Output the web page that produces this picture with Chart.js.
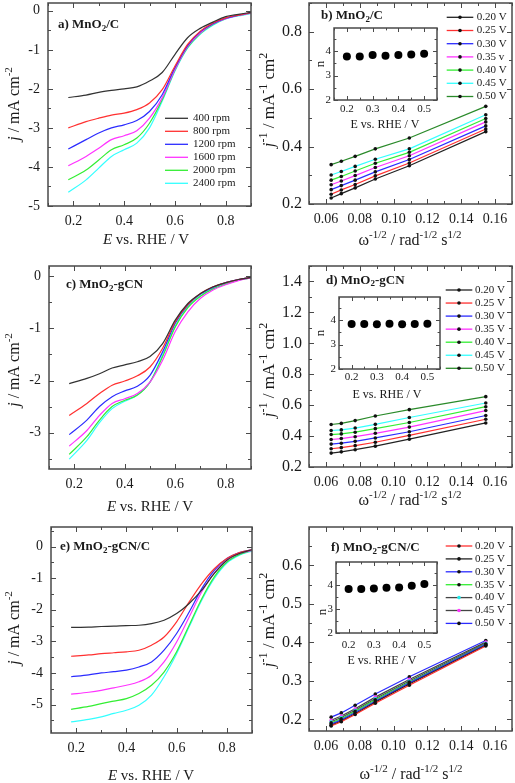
<!DOCTYPE html>
<html>
<head>
<meta charset="utf-8">
<script src="https://cdn.jsdelivr.net/npm/chart.js@4/dist/chart.umd.min.js"></script>
<style>
  body { margin: 0; background: #fff; }
  #fig { position: relative; width: 515px; height: 783px; }
  #fig canvas { position: absolute; left: 0; top: 0; }
</style>
</head>
<body>
<div id="fig">
  <canvas id="pa" width="515" height="783"></canvas>
  <canvas id="pb" width="515" height="783"></canvas>
  <canvas id="pbi" width="515" height="783"></canvas>
  <canvas id="pc" width="515" height="783"></canvas>
  <canvas id="pd" width="515" height="783"></canvas>
  <canvas id="pdi" width="515" height="783"></canvas>
  <canvas id="pe" width="515" height="783"></canvas>
  <canvas id="pf" width="515" height="783"></canvas>
  <canvas id="pfi" width="515" height="783"></canvas>
</div>
<script>
// ---- data ----
const E_SCAN = [0.18, 0.25, 0.3, 0.35, 0.4, 0.45, 0.5, 0.55, 0.6, 0.65, 0.7, 0.75, 0.8, 0.85, 0.9];
const rpmLabels = ['400 rpm', '800 rpm', '1200 rpm', '1600 rpm', '2000 rpm', '2400 rpm'];

// j (mA cm-2) for each rotation rate, MnO2/C
const lsvA = [
  [-2.22, -2.16, -2.09, -2.04, -2.0, -1.95, -1.8, -1.58, -1.12, -0.69, -0.45, -0.29, -0.15, -0.09, -0.04],
  [-3.0, -2.84, -2.75, -2.67, -2.62, -2.53, -2.36, -2.02, -1.42, -0.86, -0.52, -0.31, -0.18, -0.11, -0.05],
  [-3.54, -3.3, -3.13, -3.0, -2.92, -2.81, -2.58, -2.15, -1.46, -0.89, -0.54, -0.33, -0.19, -0.11, -0.05],
  [-3.97, -3.73, -3.52, -3.3, -3.2, -3.07, -2.75, -2.23, -1.51, -0.92, -0.57, -0.34, -0.2, -0.12, -0.06],
  [-4.33, -4.08, -3.82, -3.56, -3.43, -3.26, -2.88, -2.28, -1.52, -0.94, -0.58, -0.35, -0.2, -0.12, -0.06],
  [-4.65, -4.33, -4.03, -3.73, -3.56, -3.39, -3.0, -2.32, -1.55, -0.96, -0.6, -0.37, -0.21, -0.13, -0.07]
];
// MnO2-gCN
const lsvC = [
  [-2.06, -1.96, -1.87, -1.76, -1.7, -1.64, -1.54, -1.29, -0.84, -0.52, -0.33, -0.2, -0.12, -0.06, -0.02],
  [-2.67, -2.44, -2.25, -2.09, -2.01, -1.91, -1.74, -1.38, -0.87, -0.54, -0.33, -0.2, -0.12, -0.06, -0.02],
  [-3.04, -2.76, -2.5, -2.31, -2.2, -2.11, -1.9, -1.45, -0.9, -0.55, -0.34, -0.21, -0.12, -0.06, -0.02],
  [-3.26, -2.96, -2.67, -2.44, -2.35, -2.25, -2.03, -1.61, -1.06, -0.68, -0.42, -0.26, -0.16, -0.08, -0.03],
  [-3.42, -3.08, -2.76, -2.5, -2.38, -2.28, -2.03, -1.54, -0.97, -0.6, -0.38, -0.24, -0.15, -0.07, -0.03],
  [-3.51, -3.15, -2.81, -2.54, -2.4, -2.28, -2.03, -1.51, -0.96, -0.58, -0.37, -0.23, -0.14, -0.07, -0.03]
];
// MnO2-gCN/C
const lsvE = [
  [-2.56, -2.55, -2.53, -2.52, -2.5, -2.49, -2.44, -2.33, -2.12, -1.8, -1.38, -0.85, -0.43, -0.22, -0.1],
  [-3.47, -3.43, -3.39, -3.36, -3.33, -3.28, -3.12, -2.86, -2.38, -1.75, -1.17, -0.7, -0.38, -0.19, -0.1],
  [-4.12, -4.06, -4.0, -3.96, -3.91, -3.81, -3.65, -3.28, -2.75, -2.07, -1.33, -0.75, -0.38, -0.19, -0.1],
  [-4.67, -4.61, -4.55, -4.47, -4.39, -4.28, -4.07, -3.65, -3.02, -2.23, -1.43, -0.83, -0.43, -0.22, -0.12],
  [-5.15, -5.06, -4.97, -4.89, -4.81, -4.65, -4.39, -3.97, -3.33, -2.49, -1.65, -0.96, -0.49, -0.25, -0.12],
  [-5.55, -5.47, -5.39, -5.28, -5.18, -5.02, -4.7, -4.12, -3.39, -2.54, -1.7, -1.01, -0.52, -0.27, -0.14]
];

// Koutecky-Levich: omega^-1/2 for 2400 ... 400 rpm
const omegaInv = [0.0631, 0.0691, 0.0773, 0.0892, 0.1093, 0.1545];
const potLabelsB = ['0.20 V', '0.25 V', '0.30 V', '0.35 v', '0.40 V', '0.45 V', '0.50 V'];
const potLabels = ['0.20 V', '0.25 V', '0.30 V', '0.35 V', '0.40 V', '0.45 V', '0.50 V'];
const klB = [
  [0.221, 0.236, 0.256, 0.287, 0.333, 0.452],
  [0.234, 0.249, 0.268, 0.298, 0.343, 0.461],
  [0.250, 0.264, 0.283, 0.312, 0.355, 0.472],
  [0.267, 0.280, 0.299, 0.327, 0.368, 0.486],
  [0.283, 0.296, 0.315, 0.342, 0.380, 0.498],
  [0.301, 0.313, 0.331, 0.356, 0.392, 0.511],
  [0.337, 0.349, 0.366, 0.392, 0.430, 0.540]
];
const klD = [
  [0.290, 0.298, 0.312, 0.335, 0.380, 0.485],
  [0.318, 0.325, 0.338, 0.360, 0.404, 0.509],
  [0.348, 0.354, 0.366, 0.388, 0.428, 0.533],
  [0.378, 0.384, 0.396, 0.418, 0.458, 0.565],
  [0.410, 0.414, 0.425, 0.448, 0.488, 0.590],
  [0.436, 0.440, 0.452, 0.476, 0.520, 0.614],
  [0.475, 0.482, 0.500, 0.530, 0.571, 0.655]
];
const klF = [
  [0.183, 0.194, 0.213, 0.242, 0.289, 0.391],
  [0.185, 0.196, 0.215, 0.245, 0.292, 0.393],
  [0.188, 0.199, 0.218, 0.248, 0.295, 0.395],
  [0.191, 0.202, 0.221, 0.251, 0.297, 0.396],
  [0.194, 0.205, 0.224, 0.254, 0.300, 0.398],
  [0.198, 0.209, 0.228, 0.258, 0.304, 0.401],
  [0.206, 0.217, 0.237, 0.266, 0.311, 0.405]
];

// electron transfer number n vs potential
const nPot = [0.2, 0.25, 0.3, 0.35, 0.4, 0.45, 0.5];
const nB = [3.78, 3.78, 3.84, 3.81, 3.84, 3.86, 3.89];
const nD = [3.84, 3.84, 3.83, 3.85, 3.83, 3.84, 3.85];
const nF = [3.83, 3.83, 3.85, 3.88, 3.89, 3.96, 4.04];

// ---- styling ----
const SERIF = '"Liberation Serif", "DejaVu Serif", serif';
const TXT = '#1a1a1a';
const FRAME = '#4a4a4a';
const lsvColors = ['#333333', '#ff3030', '#2b2bff', '#ff33ff', '#33ee33', '#33ffff'];
const klColors = ['#222222', '#ff3030', '#2b2bff', '#ff33ff', '#33ee33', '#33ffff', '#2a8a2a'];
const klColorsF = ['#ff3030', '#222222', '#2b2bff', '#33ee33', '#444444', '#444444', '#2b2bff'];
const klMarkF = ['#111111', '#111111', '#111111', '#111111', '#22e8e8', '#ff33ff', '#111111'];

Chart.defaults.font.family = SERIF;
Chart.defaults.color = TXT;

function isMajor(v, step) {
  const r = v / step;
  return Math.abs(r - Math.round(r)) < 1e-6;
}

// text with italic / superscript / subscript pieces
function rich(ctx, segs, x, y, size, o) {
  o = o || {};
  const items = segs.map(s => {
    const st = s[1] || '';
    const small = st === 'sup' || st === 'sub';
    const sz = small ? Math.round(size * 0.68) : size;
    const font = (st === 'it' ? 'italic ' : '') + (o.bold ? 'bold ' : '') + sz + 'px ' + SERIF;
    ctx.font = font;
    return { t: s[0], font, w: ctx.measureText(s[0]).width,
             dy: st === 'sup' ? -size * 0.36 : (st === 'sub' ? size * 0.26 : 0) };
  });
  const total = items.reduce((a, b) => a + b.w, 0);
  ctx.save();
  ctx.translate(x, y);
  if (o.rot) ctx.rotate(o.rot);
  let cx = o.align === 'left' ? 0 : -total / 2;
  ctx.textBaseline = 'middle';
  ctx.textAlign = 'left';
  ctx.fillStyle = TXT;
  items.forEach(it => { ctx.font = it.font; ctx.fillText(it.t, cx, it.dy); cx += it.w; });
  ctx.restore();
}

function deco(cfg) {
  return {
    id: 'deco',
    beforeDatasetsDraw(chart) {
      if (!cfg.inset) return;
      const a = chart.chartArea, ctx = chart.ctx;
      ctx.save();
      ctx.fillStyle = '#fff';
      ctx.fillRect(a.left, a.top, a.right - a.left, a.bottom - a.top);
      ctx.restore();
    },
    afterDraw(chart) {
      const ctx = chart.ctx, a = chart.chartArea;
      const xs = chart.scales.x, ys = chart.scales.y;
      const tl = cfg.inset ? 4 : 5;
      ctx.save();
      ctx.strokeStyle = FRAME;
      ctx.lineWidth = 1;
      ctx.beginPath();
      xs.ticks.forEach(t => {
        const p = Math.round(xs.getPixelForValue(t.value)) + 0.5;
        const L = isMajor(t.value, cfg.x.major) ? tl : tl * 0.6;
        ctx.moveTo(p, a.bottom); ctx.lineTo(p, a.bottom - L);
        ctx.moveTo(p, a.top); ctx.lineTo(p, a.top + L);
      });
      ys.ticks.forEach(t => {
        const p = Math.round(ys.getPixelForValue(t.value)) + 0.5;
        const L = isMajor(t.value, cfg.y.major) ? tl : tl * 0.6;
        ctx.moveTo(a.left, p); ctx.lineTo(a.left + L, p);
        ctx.moveTo(a.right, p); ctx.lineTo(a.right - L, p);
      });
      ctx.stroke();
      ctx.lineWidth = 1.5;
      ctx.strokeRect(a.left, a.top, a.right - a.left, a.bottom - a.top);
      ctx.restore();

      if (cfg.title) rich(ctx, cfg.title.segs, cfg.title.x, cfg.title.y, 13, { bold: true, align: 'left' });
      rich(ctx, cfg.xt.segs, cfg.xt.x, cfg.xt.y, cfg.xt.size);
      rich(ctx, cfg.yt.segs, cfg.yt.x, cfg.yt.y, cfg.yt.size, { rot: -Math.PI / 2 });

      const lg = cfg.legend;
      if (lg) {
        chart.data.datasets.forEach((ds, i) => {
          const y = lg.y0 + i * lg.dy;
          ctx.save();
          ctx.strokeStyle = ds.borderColor;
          ctx.lineWidth = 1.3;
          ctx.beginPath(); ctx.moveTo(lg.x0, y); ctx.lineTo(lg.x1, y); ctx.stroke();
          if (lg.marker) {
            ctx.fillStyle = ds.pointBackgroundColor;
            ctx.beginPath(); ctx.arc((lg.x0 + lg.x1) / 2, y, 1.8, 0, Math.PI * 2); ctx.fill();
          }
          ctx.fillStyle = TXT;
          ctx.font = '11px ' + SERIF;
          ctx.textBaseline = 'middle';
          ctx.textAlign = 'left';
          ctx.fillText(ds.label, lg.tx, y);
          ctx.restore();
        });
      }
    }
  };
}

function axis(ax, pos, size, pad, fixW) {
  return {
    type: 'linear', position: pos, min: ax.min, max: ax.max,
    grid: { display: false, drawTicks: false },
    border: { display: false },
    ticks: {
      stepSize: ax.minor, includeBounds: false, autoSkip: false, maxRotation: 0,
      padding: pad, color: TXT, font: { family: SERIF, size: size },
      callback: v => isMajor(v, ax.major) ? v.toFixed(ax.dec) : ''
    },
    afterFit: s => {
      if (pos === 'left') s.width = fixW; else s.height = fixW;
      s.paddingLeft = 0; s.paddingRight = 0; s.paddingTop = 0; s.paddingBottom = 0;
    }
  };
}

function build(id, cfg) {
  const b = cfg.box;
  const yW = cfg.inset ? 14 : 40;
  const xH = cfg.inset ? 16 : 26;
  return new Chart(document.getElementById(id), {
    type: 'line',
    data: { datasets: cfg.datasets },
    options: {
      responsive: false, animation: false, devicePixelRatio: 1, events: [],
      layout: { autoPadding: false, padding: { left: b.l - yW, top: b.t, right: 515 - b.r, bottom: 783 - b.b - xH } },
      plugins: { legend: { display: false }, tooltip: { enabled: false } },
      scales: {
        x: axis(cfg.x, 'bottom', cfg.x.size, cfg.x.pad, xH),
        y: axis(cfg.y, 'left', cfg.y.size, cfg.y.pad, yW)
      }
    },
    plugins: [deco(cfg)]
  });
}

function lsvSets(rows) {
  return rows.map((r, i) => ({
    label: rpmLabels[i],
    data: E_SCAN.map((e, k) => ({ x: e, y: r[k] })),
    borderColor: lsvColors[i], borderWidth: 1.2, pointRadius: 0,
    cubicInterpolationMode: 'monotone', fill: false
  }));
}
function klSets(rows, labels, colors, marks) {
  return rows.map((r, i) => ({
    label: labels[i],
    data: omegaInv.map((w, k) => ({ x: w, y: r[k] })),
    borderColor: colors[i], borderWidth: 1.2, tension: 0,
    pointRadius: 1.8, pointBorderWidth: 0,
    pointBackgroundColor: marks ? marks[i] : '#111111', fill: false
  }));
}
function nSet(vals) {
  return [{
    label: 'n', data: nPot.map((p, k) => ({ x: p, y: vals[k] })),
    showLine: false, pointRadius: 4, pointBorderWidth: 0,
    pointBackgroundColor: '#000', borderColor: '#000'
  }];
}

const xLsv = { min: 0.1, max: 0.9, minor: 0.1, major: 0.2, dec: 1, size: 14, pad: 7 };
const xKl = { min: 0.05, max: 0.17, minor: 0.01, major: 0.02, dec: 2, size: 14, pad: 7 };
const xIn = (pad) => ({ min: 0.15, max: 0.55, minor: 0.05, major: 0.1, dec: 1, size: 11, pad: pad });
const yIn = { min: 2, max: 4.95, minor: 0.5, major: 1, dec: 0, size: 11, pad: 3 };
const tE = [['E', 'it'], [' vs. RHE / V']];
const tJ = [['j', 'it'], [' / mA cm'], ['-2', 'sup']];
const tW = [['\u03c9'], ['-1/2', 'sup'], [' / rad'], ['-1/2', 'sup'], [' s'], ['1/2', 'sup']];
const tJi = [['j', 'it'], ['-1', 'sup'], [' / mA'], ['-1', 'sup'], [' cm'], ['2', 'sup']];

build('pa', {
  box: { l: 48, t: 3, r: 251, b: 206 }, x: xLsv,
  y: { min: -5, max: 0.2, minor: 0.5, major: 1, dec: 0, size: 14, pad: 8 },
  datasets: lsvSets(lsvA),
  title: { segs: [['a) MnO'], ['2', 'sub'], ['/C']], x: 58, y: 25 },
  xt: { segs: tE, x: 146, y: 240, size: 15 }, yt: { segs: tJ, x: 15, y: 104, size: 16 },
  legend: { x0: 165, x1: 188, tx: 193, y0: 118.3, dy: 13, marker: false }
});
build('pb', {
  box: { l: 309, t: 3, r: 512, b: 204 }, x: xKl,
  y: { min: 0.2, max: 0.9, minor: 0.1, major: 0.2, dec: 1, size: 16, pad: 7 },
  datasets: klSets(klB, potLabelsB, klColors),
  title: { segs: [['b) MnO'], ['2', 'sub'], ['/C']], x: 321, y: 16 },
  xt: { segs: tW, x: 410, y: 241, size: 16 }, yt: { segs: tJi, x: 270, y: 100, size: 17 },
  legend: { x0: 446.7, x1: 473.3, tx: 476.7, y0: 17.3, dy: 13.2, marker: true }
});
build('pbi', {
  inset: true, box: { l: 334, t: 28, r: 437, b: 100 }, x: xIn(3), y: yIn,
  datasets: nSet(nB),
  xt: { segs: [['E vs. RHE / V']], x: 385, y: 125, size: 12 }, yt: { segs: [['n']], x: 321, y: 64, size: 13 }
});
build('pc', {
  box: { l: 49, t: 266, r: 251, b: 469 }, x: xLsv,
  y: { min: -3.7, max: 0.2, minor: 0.5, major: 1, dec: 0, size: 14, pad: 8 },
  datasets: lsvSets(lsvC),
  title: { segs: [['c) MnO'], ['2', 'sub'], ['-gCN']], x: 66, y: 285 },
  xt: { segs: tE, x: 150, y: 507, size: 15 }, yt: { segs: tJ, x: 15, y: 370, size: 16 }
});
build('pd', {
  box: { l: 309, t: 266, r: 512, b: 467 }, x: xKl,
  y: { min: 0.2, max: 1.5, minor: 0.1, major: 0.2, dec: 1, size: 16, pad: 7 },
  datasets: klSets(klD, potLabels, klColors),
  title: { segs: [['d) MnO'], ['2', 'sub'], ['-gCN']], x: 326, y: 280.7 },
  xt: { segs: tW, x: 410, y: 501, size: 16 }, yt: { segs: tJi, x: 270, y: 370, size: 17 },
  legend: { x0: 445.7, x1: 472.3, tx: 475, y0: 290, dy: 13.05, marker: true }
});
build('pdi', {
  inset: true, box: { l: 339, t: 297, r: 440, b: 369 }, x: xIn(2), y: yIn,
  datasets: nSet(nD),
  xt: { segs: [['E vs. RHE / V']], x: 387, y: 395, size: 12 }, yt: { segs: [['n']], x: 321, y: 333, size: 13 }
});
build('pe', {
  box: { l: 51, t: 527, r: 252, b: 733 }, x: xLsv,
  y: { min: -5.9, max: 0.62, minor: 0.5, major: 1, dec: 0, size: 14, pad: 8 },
  datasets: lsvSets(lsvE),
  title: { segs: [['e) MnO'], ['2', 'sub'], ['-gCN/C']], x: 60, y: 547 },
  xt: { segs: tE, x: 151, y: 776, size: 15 }, yt: { segs: tJ, x: 15, y: 628, size: 16 }
});
build('pf', {
  box: { l: 309, t: 527, r: 512, b: 731 }, x: xKl,
  y: { min: 0.17, max: 0.7, minor: 0.05, major: 0.1, dec: 1, size: 16, pad: 7 },
  datasets: klSets(klF, potLabels, klColorsF, klMarkF),
  title: { segs: [['f) MnO'], ['2', 'sub'], ['-gCN/C']], x: 331, y: 548 },
  xt: { segs: tW, x: 411, y: 775, size: 16 }, yt: { segs: tJi, x: 270, y: 620, size: 17 },
  legend: { x0: 445.7, x1: 472.3, tx: 475, y0: 546, dy: 12.9, marker: true }
});
build('pfi', {
  inset: true, box: { l: 336, t: 562, r: 437, b: 633 }, x: xIn(6), y: yIn,
  datasets: nSet(nF),
  xt: { segs: [['E vs. RHE / V']], x: 382, y: 661, size: 12 }, yt: { segs: [['n']], x: 323, y: 612, size: 13 }
});
</script>
</body>
</html>
